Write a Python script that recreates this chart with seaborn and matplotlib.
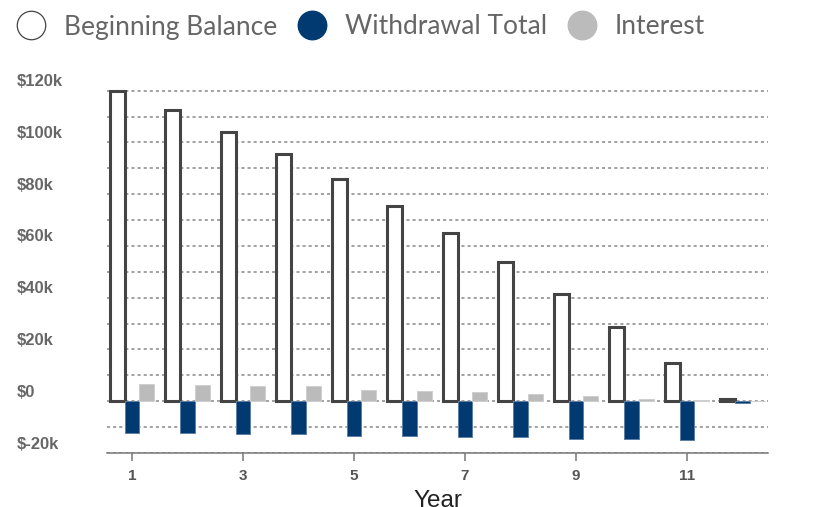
import numpy as np
import pandas as pd
import matplotlib
matplotlib.use('Agg')
import matplotlib.pyplot as plt
from matplotlib.lines import Line2D
from matplotlib.transforms import ScaledTranslation
import seaborn as sns

# values (dollars)
years = list(range(1, 13))
beginning_balance = [120000, 112500, 103900, 95400, 86000, 75600,
                     65100, 53700, 41400, 28600, 14900, 800]
withdrawal_total = [-12300, -12300, -12800, -12800, -13400, -13400,
                    -14000, -14000, -14600, -14600, -15100, -600]
interest = [6800, 6200, 5700, 5700, 4400, 4000,
            3400, 2900, 2100, 1000, 500, 0]

series_names = ['Beginning Balance', 'Withdrawal Total', 'Interest']
colors = ['#ffffff', '#003a70', '#bbbbbb']

y_ticks = list(range(-20000, 120001, 20000))
y_labels = ['$-20k', '$0', '$20k', '$40k', '$60k', '$80k', '$100k', '$120k']
y_minor = list(range(-10000, 120001, 20000))
x_ticks = [1, 3, 5, 7, 9, 11]

df = pd.DataFrame({
    'Year': years * 3,
    'Value': beginning_balance + withdrawal_total + interest,
    'Series': [s for s in series_names for _ in years],
})

sns.set_style('white')
plt.rcParams['font.family'] = ['Liberation Sans', 'DejaVu Sans']

fig = plt.figure(figsize=(8.26, 5.07), dpi=100)
ax = fig.add_axes([0.1295, 0.1065, 0.8003, 0.7197])

sns.barplot(data=df, x='Year', y='Value', hue='Series', hue_order=series_names,
            palette=colors, width=0.8, legend=False, ax=ax, saturation=1)

# style each series
for bar in ax.containers[0]:
    bar.set_facecolor('white')
    bar.set_edgecolor('#444444')
    bar.set_linewidth(2.2)
for bar in ax.containers[1]:
    bar.set_edgecolor('#5d80a6')
    bar.set_linewidth(0.7)
for bar in ax.containers[2]:
    bar.set_edgecolor('#cfcfcf')
    bar.set_linewidth(0.7)

ax.set_xlim(-0.45, 11.46)
ax.set_ylim(-20000, 121000)

# gridlines every 10k, labels every 20k
ax.set_yticks(y_ticks)
ax.set_yticklabels(y_labels)
ax.set_yticks(y_minor, minor=True)
ax.set_axisbelow(True)
ax.grid(axis='y', which='both', color='#888888', linestyle=(0, (2, 2)), linewidth=1.1)
ax.grid(axis='x', visible=False)

ax.tick_params(axis='y', which='both', length=0, pad=65,
               labelsize=12, labelcolor='#666666')
offset = ScaledTranslation(0, 0.105, fig.dpi_scale_trans)
for lab in ax.get_yticklabels():
    lab.set_horizontalalignment('left')
    lab.set_fontweight('bold')
    lab.set_transform(lab.get_transform() + offset)

ax.set_xticks([y - 1 for y in x_ticks])
ax.set_xticklabels([str(y) for y in x_ticks], fontweight='bold')
ax.tick_params(axis='x', length=5.8, width=1.1, color='#777777', pad=5.5,
               labelsize=11, labelcolor='#555555', bottom=True)

for side in ['top', 'right', 'left']:
    ax.spines[side].set_visible(False)
ax.spines['bottom'].set_color('#777777')
ax.spines['bottom'].set_linewidth(1.1)

ax.set_ylabel('')
ax.set_xlabel('Year', fontsize=17.5, color='#222222', labelpad=5)

# legend at the top
handles = [
    Line2D([], [], marker='o', linestyle='none', markersize=20.5,
           markerfacecolor='white', markeredgecolor='#444444', markeredgewidth=0.9),
    Line2D([], [], marker='o', linestyle='none', markersize=20.5,
           markerfacecolor='#003a70', markeredgecolor='#003a70'),
    Line2D([], [], marker='o', linestyle='none', markersize=20.5,
           markerfacecolor='#bbbbbb', markeredgecolor='#bbbbbb'),
]
fig.legend(handles, series_names, loc='center left', ncol=3, frameon=False,
           bbox_to_anchor=(0.0184, 1 - 27 / 507), bbox_transform=fig.transFigure,
           borderpad=0, borderaxespad=0, handlelength=1.2, handletextpad=0.65,
           columnspacing=0.72, prop={'family': ['Lato', 'DejaVu Sans'], 'size': 19},
           labelcolor='#666666')

fig.savefig('out.png', dpi=100)
